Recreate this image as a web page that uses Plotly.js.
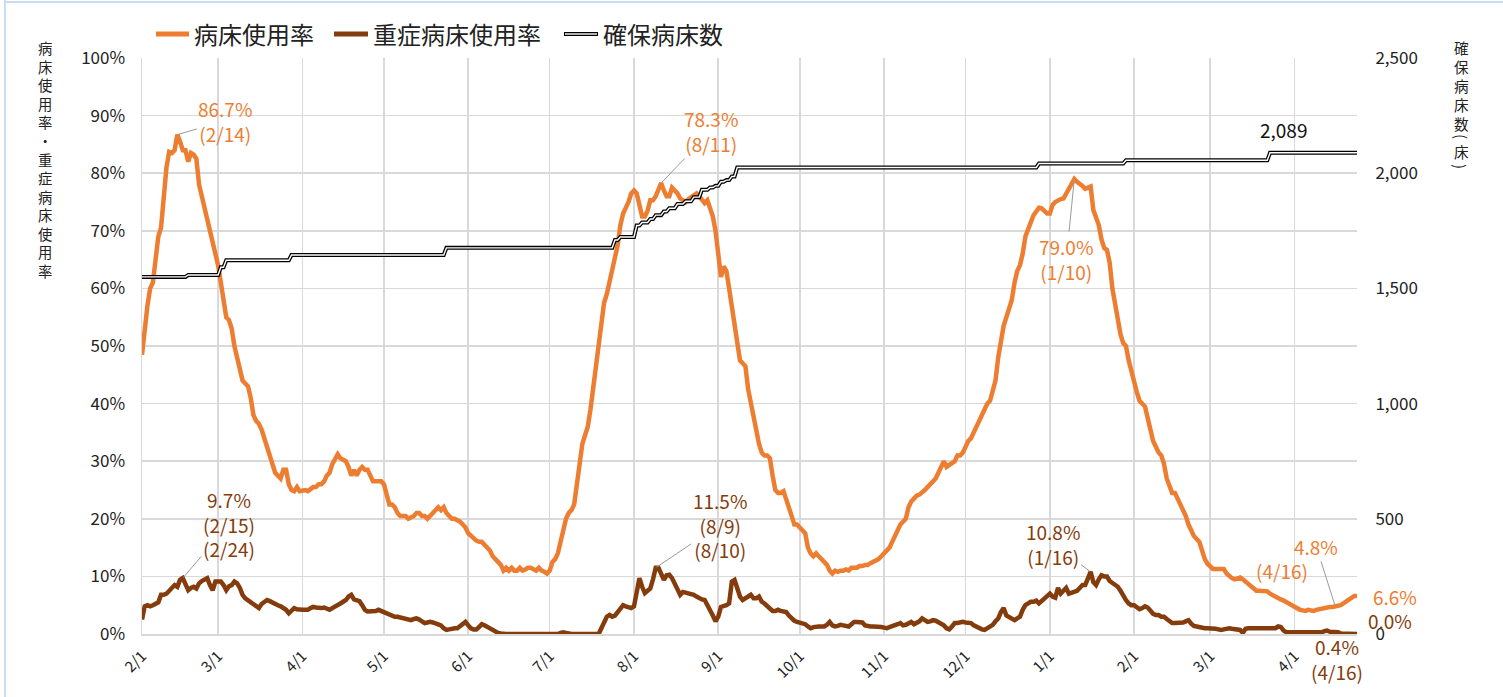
<!DOCTYPE html>
<html><head><meta charset="utf-8">
<script src="https://cdn.plot.ly/plotly-3.0.1.min.js"></script>
<style>html,body{margin:0;padding:0;background:#fff}#chart{width:1503px;height:697px}</style>
</head><body><div id="chart"></div>
<script>
// ---------------- DATA ----------------
const startDate = '2022-02-01';
// 病床使用率 (%), daily from 2022-02-01
const occupancy = [
48.5,53,57,60,61,65,69,70.5,76,81,
83.7,83.5,84,86.7,85.5,84,84,82,83.5,83.2,
82.5,78,76,74,71.5,69.5,67.5,65.5,64,61,
57.5,
55,54.5,53,50,47.5,46,44,43.5,43,41,
38,37,36.5,35.5,34,33,31,29.5,28,27.5,
27,28.5,28.5,26,25,24.8,25.5,24.8,
25,25,24.8,25.2,25.5,25.5,26,26,26.5,27.5,
28,29.5,30.5,31.2,30.5,30.2,30,29,27.5,28.5,
27.5,28.5,29,28.5,28.5,27.5,26.5,26.5,26.5,26.5,
26,24.5,22.5,22.5,22,21,20.5,20.5,20.5,20,
20.2,
20.5,21,21,20.5,20.5,20,20.5,21,21.5,22,
21.5,22,21,20.5,20,20,19.8,19.5,19,18.5,
17.5,17,16.5,16.2,16,16,15.5,15,14.5,13.5,
13,12.5,12,11,11.5,11,11.5,11,11,11.5,
11,11.2,11.5,11.5,11.2,11,11.5,11,10.8,10.5,
11,
12.5,13,14,16,18,20,21,21.5,22.5,26,
29,33,34.5,36,39,43,46,50,55,57.5,
59,61,63,65.5,67.5,71,73,74,75,76.5,
77,
76.5,74,72.5,72.5,73.5,75.3,75.3,76,77,78.3,
77,76,76,77.5,77,76.5,75.6,75.3,75,75.5,
75.9,76.2,76.5,76,75.5,74.8,75.3,74,72.5,70,
65,62,63.8,63,60,57,54,50.5,47.5,47,
46.5,42.5,40,37.5,35,33,31.5,31,31,30.5,
27.5,25,24.5,24.5,24.8,23.5,22,20.5,19,19,
18.5,18,17.5,15,14,13.5,14,13.5,13,12.5,
12,11,10.5,11,10.8,11,11,11.2,11,11.5,
11.5,11.5,11.8,11.8,12,12,12.3,12.5,12.8,13,
13.5,14,14.5,15,16,17,18,19,19.5,20,
22,23,23.5,24,24.2,24.5,25,25.5,26,26.5,
27,28,29,30,29,29.3,29.5,30,31,31,
31.5,32.5,33.5,34,35,36,37,38,39,40,
40.5,42,44,48,51,53.5,55,56.5,58,61,
63,64,66,69,70.5,71.5,72.7,73.5,74,73.9,
73.5,73,73,74.5,75,75.3,75.5,75.6,76.5,77.5,
78,79,78.5,78.2,77.8,77.3,77.5,77.7,
73.6,72,71,68.5,67,66.7,64.5,60,57.4,55,
52,50.5,50,47.5,45.5,43.5,42,40.5,40,39.5,
37.5,35.5,33.5,32.5,31.5,31,29.5,27,25.5,24.5,
24.5,23.5,22.5,21.5,20.5,19,18,17,16.5,16,
14.5,13,12.2,11.8,11.3,11.3,11.3,11.3,11.3,10.5,
10,9.7,9.5,9.7,9.8,9.5,9,8.7,8.3,7.8,
7.5,7.5,7.5,7.5,7.4,7,6.7,6.5,6.2,6,
5.8,5.5,5.2,4.9,4.6,4.4,4.2,4.1,4,4.2,
4,4,4.2,4.3,4.5,4.6,4.6,4.7,4.7,4.8,
4.8,5,5.3,5.6,5.9,6.3,6.6,6.6
];
// 重症病床使用率 (%), daily from 2022-02-01
const severe = [
2.5,4.8,5,4.8,5,5.2,5.5,6.8,6.8,7,
7.5,8.2,8.5,8.2,9.4,9.7,8.5,7.6,8,8.2,
7.9,8.8,9.2,9.4,9.7,8.5,7.6,9.1,9.1,9.1,
8.5,7.6,8.3,8.5,9.1,8.8,8,6.8,6.2,5.9,
5.5,5.3,5,4.5,5.2,5.6,5.9,5.7,5.4,5.3,
5,4.8,4.5,4.2,3.6,4,4.5,4.3,4.2,4.2,
4.2,4.2,4.5,4.7,4.6,4.5,4.5,4.6,4.3,4.2,
4.5,4.7,5,5.3,5.6,5.9,6.5,6.8,6,5.9,
5.7,5,4.2,3.9,3.9,3.9,4,4.2,4,3.6,
3.4,3.2,3,3,3,2.9,2.7,2.6,2.4,2.4,
2.6,2.7,2.5,2.3,1.9,2,2.1,2,1.9,1.7,
1.5,1,0.7,0.8,1,1,1,1.3,1.8,2.1,
1.5,1,0.8,0.8,1.2,1.7,1.5,1.2,1,0.6,
0.4,0.2,0.1,0,0,0,0,0,0,0,
0,0,0,0,0,0,0,0,0,0,
0,0,0,0,0.2,0.3,0.2,0,0,0,
0,0,0,0,0,0,0,0,0,1,
2.2,3,3.3,3,3.2,3.9,4.5,5,4.8,4.7,
4.5,4.8,7,9.7,8.2,7.1,7.5,7.9,9.5,11.5,
11.5,10.5,9.4,10.2,10.3,9.7,8.8,7.5,6.8,7.3,
7.2,7.1,7,6.8,6.5,6.2,6,5.9,5,4.5,
3.2,2.2,3,4.7,4.8,5,5.3,9.1,9.4,8,
6.5,5.9,6.2,6.5,6.8,6.2,6.2,6.5,5.6,5.3,
4.8,4.5,4,4,4.2,4,3.9,3.8,3.2,2.7,
2.3,2.1,2,1.9,1.7,1.3,1,1.2,1.3,1.3,
1.3,1.3,1.6,2.1,1.5,1.3,1.4,1.6,1.5,1.3,
1.3,1.7,2.1,2.1,2.1,2,1.5,1.3,1.3,1.3,
1.3,1.3,1.2,1.1,1,1.2,1.3,1.5,1.7,1.9,
1.5,1.6,1.8,2.1,1.7,1.9,2.2,2.7,2.3,2.1,
2.2,2.4,2.3,2,1.9,1.5,1,0.8,1.3,1.9,
1.9,2,2.1,2,1.9,1.9,1.5,1.2,1,0.8,
0.7,1,1.4,1.6,2.2,2.7,3.8,4.5,3.2,3,
2.7,2.4,2.7,3,4.2,5,5.3,5.6,5.6,5.8,
5.3,5.7,6,6.5,7,6.5,6.3,8,7,7.5,
8,7,7.2,7.5,7.5,8,8.5,8.5,9.5,10.8,
9,8.5,9.5,10.2,10,10,9.2,8.8,8.5,8.2,
7.5,6.5,5.9,5.3,5,5,4.6,4.3,4.5,4.8,
4.6,4,3.5,3.3,3.3,3,3,2.6,2.2,1.9,
1.9,1.9,1.9,2,2.2,2.4,1.8,1.4,1.3,1.2,
1,1,1,1,1,0.9,0.8,0.7,0.8,1,
1,0.9,0.8,0.7,0.7,0.2,0.9,1,1,1,
1,1,1,1,1,1,1,1,1.3,1.2,
0.6,0.3,0.3,0.3,0.3,0.3,0.3,0.3,0.3,0.3,
0.3,0.3,0.3,0.2,0.3,0.5,0.6,0.4,0.4,0.4,
0.3,0.1,0.1,0,0,0,0,0
];
// 確保病床数: day index (from 2022-02-01) where the count changes, and the new count
const bedChangeDays = [0,17,29,31,55,112,174,176,182,184,187,189,192,194,197,200,203,206,209,211,213,215,217,219,330,362,415];
const bedValues     = [1550,1558,1592,1622,1645,1676,1710,1723,1773,1786,1801,1818,1834,1848,1866,1878,1896,1928,1938,1945,1963,1970,1986,2025,2042,2056,2089];
const lastDay = 447;
const monthTickDates  = ['2022-02-01','2022-03-01','2022-04-01','2022-05-01','2022-06-01','2022-07-01','2022-08-01','2022-09-01','2022-10-01','2022-11-01','2022-12-01','2023-01-01','2023-02-01','2023-03-01','2023-04-01'];
const monthTickLabels = ['2/1','3/1','4/1','5/1','6/1','7/1','8/1','9/1','10/1','11/1','12/1','1/1','2/1','3/1','4/1'];
const seriesNames = ['病床使用率','重症病床使用率','確保病床数'];
const leftTitle = '病床使用率・重症病床使用率';
const rightTitleMain = '確保病床数';
const rightTitleUnit = ['(','床',')'];

// ---------------- BUILD ----------------
const DAY = 86400000;
const t0 = Date.UTC(2022,1,1);
function dayToDate(i){ return new Date(t0 + i*DAY).toISOString().slice(0,10); }

const bedX = [], bedY = [];
for (let k=0;k<bedChangeDays.length;k++){
  if (k>0){ bedX.push(dayToDate(bedChangeDays[k]-1)); bedY.push(bedValues[k-1]); }
  bedX.push(dayToDate(bedChangeDays[k])); bedY.push(bedValues[k]);
}
bedX.push(dayToDate(lastDay)); bedY.push(bedValues[bedValues.length-1]);

const ORANGE = '#ED7D31', BROWN = '#843C0C';
const FONT = 'Noto Sans CJK JP, Noto Sans, sans-serif';

const traces = [
  {type:'scatter', mode:'lines', x0:startDate, dx:DAY, y:occupancy, name:seriesNames[0],
   line:{color:ORANGE, width:4.5}, hoverinfo:'skip'},
  {type:'scatter', mode:'lines', x0:startDate, dx:DAY, y:severe, name:seriesNames[1],
   line:{color:BROWN, width:4.5}, hoverinfo:'skip'},
  {type:'scatter', mode:'lines', x:bedX, y:bedY, yaxis:'y2', name:seriesNames[2],
   line:{color:'#000', width:4}, hoverinfo:'skip'},
  {type:'scatter', mode:'lines', x:bedX, y:bedY, yaxis:'y2', showlegend:false,
   line:{color:'#fff', width:1.4}, hoverinfo:'skip'}
];

// plot area pixel geometry -> paper coordinates
const PL=142, PR=1357, PT=58, PB=634;
const px = X => (X-PL)/(PR-PL);
const py = Y => (PB-Y)/(PB-PT);

const annotations = [];
const shapes = [];
// left stacked (vertical) title, one character per line
annotations.push({xref:'paper', yref:'paper', x:px(45), y:py(35), text:[...leftTitle].join('<br>'), showarrow:false,
  xanchor:'center', yanchor:'top', align:'center', font:{family:FONT, size:14.3, color:'#222'}});
// right stacked title
annotations.push({xref:'paper', yref:'paper', x:px(1461), y:py(35), text:[...rightTitleMain].join('<br>'), showarrow:false,
  xanchor:'center', yanchor:'top', align:'center', font:{family:FONT, size:14.6, color:'#222'}});
const unitYs = [136,151,166];
rightTitleUnit.forEach((ch,i)=>{
  const paren = (ch==='(' || ch===')');
  annotations.push({xref:'paper', yref:'paper', x:px(1461), y:py(unitYs[i]), text:ch, showarrow:false,
    textangle: paren ? 90 : 0, xanchor:'center', yanchor:'middle',
    font:{family:FONT, size:paren?15:14.6, color:'#222'}});
});
// manual legend
const legendItems = [
  {x0:156, x1:189, tx:192, color:ORANGE, dbl:false},
  {x0:334, x1:368, tx:371, color:BROWN, dbl:false},
  {x0:564, x1:598, tx:601, color:'#000', dbl:true}
];
legendItems.forEach((it,i)=>{
  shapes.push({type:'line', xref:'paper', yref:'paper', x0:px(it.x0), x1:px(it.x1), y0:py(34), y1:py(34),
    line:{color:it.color, width:it.dbl?4:5}});
  if (it.dbl) shapes.push({type:'line', xref:'paper', yref:'paper', x0:px(it.x0+1), x1:px(it.x1-1), y0:py(34), y1:py(34),
    line:{color:'#fff', width:1.4}});
  annotations.push({xref:'paper', yref:'paper', x:px(it.tx), y:py(33), text:seriesNames[i], showarrow:false,
    xanchor:'left', yanchor:'middle', font:{family:FONT, size:24, color:'#222'}});
});
// border lines of the screenshot
shapes.push({type:'line', xref:'paper', yref:'paper', x0:px(5), x1:px(5), y0:py(0), y1:py(697), line:{color:'#c9ddf2', width:2}});
shapes.push({type:'line', xref:'paper', yref:'paper', x0:px(5), x1:px(1503), y0:py(2), y1:py(2), line:{color:'#c9ddf2', width:2}});

// data labels
function lab(day, arr, text, color, opt){
  return Object.assign({x:dayToDate(day), y:arr[day], xref:'x', yref:'y', text:text,
    font:{family:FONT, size:19, color:color}, align:'center'}, opt);
}
const leader = {showarrow:true, arrowhead:0, arrowwidth:1, arrowcolor:'#9a9a9a', standoff:1};
annotations.push(lab(13, occupancy, '86.7%<br>(2/14)', ORANGE, Object.assign({ax:48, ay:-14}, leader)));
annotations.push(lab(191, occupancy, '78.3%<br>(8/11)', ORANGE, Object.assign({ax:50, ay:-52}, leader)));
annotations.push(lab(343, occupancy, '79.0%<br>(1/10)', ORANGE, Object.assign({ax:-8, ay:80}, leader)));
annotations.push(lab(15, severe, '9.7%<br>(2/15)<br>(2/24)', BROWN, Object.assign({ax:46, ay:-54}, leader)));
annotations.push(lab(189, severe, '11.5%<br>(8/9)<br>(8/10)', BROWN, Object.assign({ax:64, ay:-43}, leader)));
annotations.push(lab(349, severe, '10.8%<br>(1/16)', BROWN, Object.assign({ax:-38, ay:-28}, leader)));
annotations.push(lab(439, occupancy, '4.8%', ORANGE, Object.assign({ax:-19, ay:-60}, leader)));
annotations.push(lab(439, occupancy, '(4/16)', ORANGE, {showarrow:false, xshift:-53, yshift:36}));
annotations.push(lab(lastDay, occupancy, '6.6%', ORANGE, {showarrow:false, xshift:38, yshift:-1}));
annotations.push(lab(lastDay, severe, '0.0%', BROWN, {showarrow:false, xshift:33, yshift:14}));
annotations.push(lab(439, severe, '0.4%<br>(4/16)', BROWN, {showarrow:false, xshift:2, yshift:-27}));
annotations.push({x:dayToDate(lastDay), y:bedValues[bedValues.length-1], xref:'x', yref:'y2', text:'2,089',
  showarrow:false, xshift:-74, yshift:23, font:{family:FONT, size:19, color:'#111'}});

const GRID = '#d9d9d9';
const layout = {
  width:1503, height:697,
  margin:{l:142, r:146, t:58, b:63, pad:0},
  paper_bgcolor:'#fff', plot_bgcolor:'#fff',
  showlegend:false,
  font:{family:FONT, color:'#333'},
  xaxis:{type:'date', range:[dayToDate(0), dayToDate(lastDay)], tickvals:monthTickDates, ticktext:monthTickLabels,
    tickangle:-45, showgrid:true, gridcolor:GRID, gridwidth:1.5, showline:true, linecolor:GRID, linewidth:1.5,
    ticks:'outside', ticklen:6, tickcolor:'rgba(0,0,0,0)', tickfont:{family:FONT, size:15, color:'#222'},
    zeroline:false, fixedrange:true},
  yaxis:{range:[0,100], dtick:10, ticksuffix:'%', showgrid:true, gridcolor:GRID, gridwidth:1.5,
    showline:true, linecolor:GRID, linewidth:1.5,
    ticks:'outside', ticklen:12, tickcolor:'rgba(0,0,0,0)', tickfont:{family:FONT, size:17, color:'#222'},
    zeroline:false, fixedrange:true},
  yaxis2:{overlaying:'y', side:'right', range:[0,2500], dtick:500, tickformat:',d', showgrid:false,
    ticks:'outside', ticklen:14, tickcolor:'rgba(0,0,0,0)', tickfont:{family:FONT, size:17, color:'#222'},
    zeroline:false, showline:false, fixedrange:true},
  annotations:annotations,
  shapes:shapes
};
Plotly.newPlot('chart', traces, layout, {displayModeBar:false, staticPlot:true});
</script></body></html>
